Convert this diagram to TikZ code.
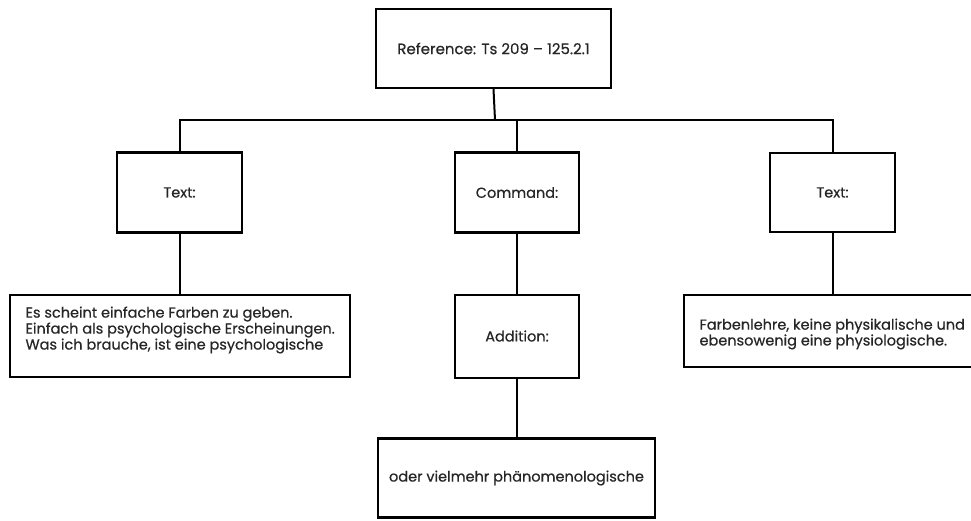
\documentclass[tikz,border=0pt]{standalone}
\usepackage{fontspec}
\setmainfont{Poppins}[FakeBold=0.5]
\begin{document}
\begin{tikzpicture}[x=1pt,y=-1pt,
  box/.style={draw=black, line width=2.3pt, fill=white, rectangle, inner sep=0pt},
  conn/.style={draw=black, line width=2pt},
  lbl/.style={font=\fontsize{14.5}{14.5}\selectfont, text=black!85}]
\useasboundingbox[fill=white] (0,0) rectangle (971,520);

\node[box, minimum width=235, minimum height=79] (root) at (493.5,48.5) {};
\node[lbl, font=\fontsize{15}{15}\selectfont] at (root.center) {Reference: Ts 209 -- 125.2.1};

\node[box, minimum width=125, minimum height=80] (t1) at (179.5,192.5) {};
\node[lbl] at (t1.center) {Text:};
\node[box, minimum width=124, minimum height=80] (cmd) at (517,192.5) {};
\node[lbl] at (cmd.center) {Command:};
\node[box, minimum width=125, minimum height=79] (t3) at (832.5,192.5) {};
\node[lbl] at (t3.center) {Text:};

\node[box, minimum width=340, minimum height=82] (b1) at (180,336) {};
\node[lbl, anchor=west, align=left] at (22,330) {Es scheint einfache Farben zu geben.\\Einfach als psychologische Erscheinungen.\\Was ich brauche, ist eine psychologische};

\node[box, minimum width=124, minimum height=83] (add) at (517,336.5) {};
\node[lbl] at (517,336) {Addition:};

\node[box, minimum width=310, minimum height=72] (b3) at (839,331) {};
\node[lbl, anchor=west, align=left] at (696,334) {Farbenlehre, keine physikalische und\\ebensowenig eine physiologische.};

\node[box, minimum width=277, minimum height=79] (b4) at (516.5,478) {};
\node[lbl] at (b4.center) {oder vielmehr phänomenologische};

\coordinate (bus) at (495,120);
\draw[conn] (root.south) -- (bus);
\draw[conn] (t1.north) |- (bus) -| (t3.north);
\draw[conn] (cmd.north) -- (cmd.north |- bus);
\draw[conn] (t1.south) -- (b1.north -| t1.south);
\draw[conn] (cmd.south) -- (add.north);
\draw[conn] (t3.south) -- (b3.north -| t3.south);
\draw[conn] (add.south) -- (b4.north -| add.south);
\end{tikzpicture}
\end{document}
